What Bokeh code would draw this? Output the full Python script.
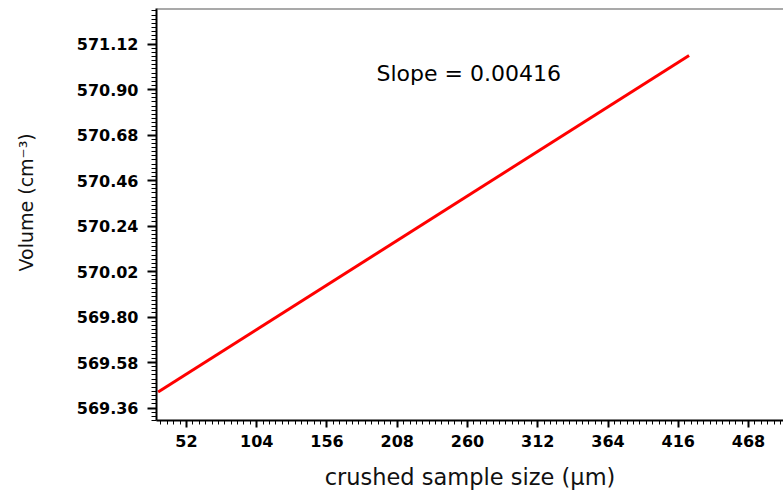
from bokeh.plotting import figure
from bokeh.models import (Range1d, SingleIntervalTicker, LinearAxis, Span, Label,
                          PrintfTickFormatter)
from bokeh.embed import file_html
from bokeh.resources import INLINE

# data
sample_size = [31, 424]
volume = [569.4375, 571.065]
slope_text = "Slope = 0.00416"
x_title = "crushed sample size (\u03bcm)"
y_title = "\u00a0\u00a0\u00a0\u00a0Volume (cm\u207b\u00b3)"
x_tick_interval = 52
y_tick_interval = 0.22

X_START, X_END = 29.8, 493.9
Y_START, Y_END = 569.30, 571.292

p = figure(width=783, height=493, output_backend="svg", toolbar_location=None,
           x_range=Range1d(X_START, X_END), y_range=Range1d(Y_START, Y_END),
           x_axis_type=None, y_axis_type=None,
           min_border_left=156, min_border_right=0, min_border_top=8,
           min_border_bottom=73)
p.outline_line_color = None
p.xgrid.visible = False
p.ygrid.visible = False
p.background_fill_color = "white"
p.border_fill_color = "white"

xaxis = LinearAxis(ticker=SingleIntervalTicker(interval=x_tick_interval, num_minor_ticks=11),
                   axis_label=x_title)
yaxis = LinearAxis(ticker=SingleIntervalTicker(interval=y_tick_interval, num_minor_ticks=11),
                   axis_label=y_title, formatter=PrintfTickFormatter(format="%.2f"))

for ax in (xaxis, yaxis):
    ax.axis_line_color = "black"
    ax.axis_line_width = 2
    ax.major_tick_line_color = "black"
    ax.major_tick_line_width = 2
    ax.minor_tick_line_color = "black"
    ax.minor_tick_line_width = 1
    ax.major_tick_in = 0
    ax.minor_tick_in = 0
    ax.major_label_text_font = "DejaVu Sans"
    ax.major_label_text_font_style = "bold"
    ax.major_label_text_font_size = "16px"
    ax.major_label_text_color = "black"
    ax.axis_label_text_font = "DejaVu Sans"
    ax.axis_label_text_font_style = "normal"
    ax.axis_label_text_color = "#111111"

xaxis.major_tick_out = 7
xaxis.minor_tick_out = 4
xaxis.major_label_standoff = 7
xaxis.axis_label_standoff = 14
xaxis.axis_label_text_font_size = "22.5px"

yaxis.major_tick_out = 9
yaxis.minor_tick_out = 5
yaxis.major_label_standoff = 9
yaxis.axis_label_standoff = 37
yaxis.axis_label_text_font_size = "19px"

p.add_layout(xaxis, "below")
p.add_layout(yaxis, "left")

p.add_layout(Span(location=Y_END, dimension="width", line_color="#555555", line_width=2))

p.line(sample_size, volume, line_color="#ff0000", line_width=3)

p.add_layout(Label(x=192.6, y=570.98, text=slope_text, text_font="DejaVu Sans",
                   text_font_size="22px", text_color="black", text_baseline="alphabetic"))

open("out.html", "w").write(file_html(p, INLINE))
